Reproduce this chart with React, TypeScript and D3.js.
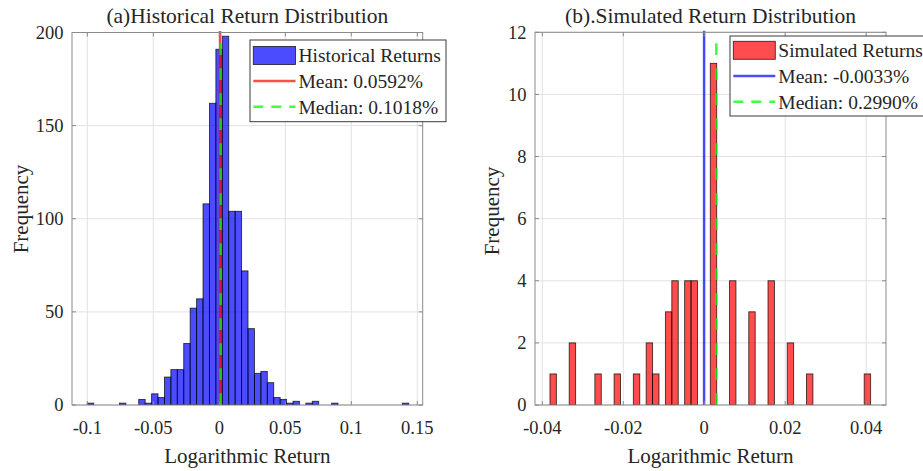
import React from "react";
import * as d3 from "d3";

// ---------- data ----------
const histCounts = [
  1, 0, 0, 0, 0, 1, 0, 0, 3, 1,
  6, 4, 15, 19, 19, 33, 52, 57, 108, 162,
  191, 198, 104, 104, 72, 41, 17, 18, 12, 4,
  3, 1, 2, 0, 1, 2, 0, 0, 1, 0,
  0, 0, 0, 0, 0, 0, 0, 0, 0, 1,
];
const histBinStart = -0.1;
const histBinWidth = 0.00487;
const histMean = 0.000592;
const histMedian = 0.001018;
const histXTicks = [-0.1, -0.05, 0, 0.05, 0.1, 0.15];
const histXTickLabels = ["-0.1", "-0.05", "0", "0.05", "0.1", "0.15"];
const histYTicks = [0, 50, 100, 150, 200];

const simCounts = [
  1, 0, 0, 2, 0, 0, 0, 1, 0, 0,
  1, 0, 0, 1, 0, 2, 1, 0, 3, 4,
  0, 4, 4, 0, 0, 11, 0, 0, 4, 0,
  0, 3, 0, 0, 4, 0, 0, 2, 0, 0,
  1, 0, 0, 0, 0, 0, 0, 0, 0, 1,
];
const simBinStart = -0.0381;
const simBinWidth = 0.001584;
const simMean = -0.000033;
const simMedian = 0.00299;
const simXTicks = [-0.04, -0.02, 0, 0.02, 0.04];
const simXTickLabels = ["-0.04", "-0.02", "0", "0.02", "0.04"];
const simYTicks = [0, 2, 4, 6, 8, 10, 12];

const FONT = "'Liberation Serif', 'Times New Roman', serif";
const TEXT = "#262626";
const AXIS = "#8a8a8a";
const GRID = "#e2e2e2";

type PanelProps = {
  title: string;
  counts: number[];
  binStart: number;
  binWidth: number;
  xDomain: [number, number];
  yMax: number;
  left: number;
  right: number;
  top: number;
  bottom: number;
  xTicks: number[];
  xTickLabels: string[];
  yTicks: number[];
  barColor: string;
  meanColor: string;
  mean: number;
  median: number;
  legendLabels: string[];
  legendBox: [number, number, number, number];
  legendRows: number[];
  legendPatchX: [number, number];
  yLabelX: number;
  yLabelY: number;
};

function Panel(p: PanelProps) {
  const x = d3.scaleLinear().domain(p.xDomain).range([p.left, p.right]);
  const y = d3.scaleLinear().domain([0, p.yMax]).range([p.bottom, p.top]);
  const tick = 4;
  const cx = (p.left + p.right) / 2;
  const [lx0, ly0, lx1, ly1] = p.legendBox;
  const [px0, px1] = p.legendPatchX;
  const clipId = "clip" + p.left;
  return (
    <g>
      <defs>
        <clipPath id={clipId}>
          <rect x={p.left} y={p.top - 2} width={p.right - p.left} height={p.bottom - p.top + 2} />
        </clipPath>
      </defs>
      {/* grid */}
      {p.xTicks.map((t, i) => (
        <line key={"gx" + i} x1={x(t)} x2={x(t)} y1={p.top} y2={p.bottom} stroke={GRID} strokeWidth={1} />
      ))}
      {p.yTicks.map((t, i) => (
        <line key={"gy" + i} x1={p.left} x2={p.right} y1={y(t)} y2={y(t)} stroke={GRID} strokeWidth={1} />
      ))}
      {/* bars */}
      <g clipPath={`url(#${clipId})`}>
        {p.counts.map((c, i) =>
          c > 0 ? (
            <rect
              key={"b" + i}
              x={x(p.binStart + i * p.binWidth)}
              width={x(p.binStart + (i + 1) * p.binWidth) - x(p.binStart + i * p.binWidth)}
              y={y(c)}
              height={y(0) - y(c)}
              fill={p.barColor}
              fillOpacity={0.7}
              stroke="#000"
              strokeOpacity={0.75}
              strokeWidth={0.9}
            />
          ) : null
        )}
      </g>
      {/* mean & median lines */}
      <line x1={x(p.mean)} x2={x(p.mean)} y1={p.bottom} y2={p.top - 1.5} stroke={p.meanColor} strokeOpacity={0.7} strokeWidth={2.5} />
      <line
        x1={x(p.median)}
        x2={x(p.median)}
        y1={p.bottom}
        y2={p.top}
        stroke="#00ff00"
        strokeOpacity={0.75}
        strokeWidth={2.5}
        strokeDasharray="11.7 13.3"
      />
      {/* axes box */}
      <rect x={p.left} y={p.top} width={p.right - p.left} height={p.bottom - p.top} fill="none" stroke={AXIS} strokeWidth={1} />
      {p.xTicks.map((t, i) => (
        <g key={"tx" + i}>
          <line x1={x(t)} x2={x(t)} y1={p.bottom} y2={p.bottom - tick} stroke={AXIS} />
          <line x1={x(t)} x2={x(t)} y1={p.top} y2={p.top + tick} stroke={AXIS} />
          <text x={x(t)} y={433.5} textAnchor="middle" fontFamily={FONT} fontSize={18.5} fill={TEXT}>
            {p.xTickLabels[i]}
          </text>
        </g>
      ))}
      {p.yTicks.map((t, i) => (
        <g key={"ty" + i}>
          <line x1={p.left} x2={p.left + tick} y1={y(t)} y2={y(t)} stroke={AXIS} />
          <line x1={p.right} x2={p.right - tick} y1={y(t)} y2={y(t)} stroke={AXIS} />
          <text x={p.left - 8.5} y={y(t)} dy="0.35em" textAnchor="end" fontFamily={FONT} fontSize={18.5} fill={TEXT}>
            {t}
          </text>
        </g>
      ))}
      {/* title & labels */}
      <text x={cx} y={23.3} textAnchor="middle" fontFamily={FONT} fontSize={21.5} fill={TEXT}>
        {p.title}
      </text>
      <text x={cx} y={462.5} textAnchor="middle" fontFamily={FONT} fontSize={21} fill={TEXT}>
        Logarithmic Return
      </text>
      <text
        transform={`translate(${p.yLabelX},${p.yLabelY}) rotate(-90)`}
        textAnchor="middle"
        dy="0.35em"
        fontFamily={FONT}
        fontSize={21}
        fill={TEXT}
      >
        Frequency
      </text>
      {/* legend */}
      <rect x={lx0} y={ly0} width={lx1 - lx0} height={ly1 - ly0} fill="#fff" stroke="#3a3a3a" strokeWidth={1} />
      <rect
        x={px0}
        y={p.legendRows[0] - 9}
        width={px1 - px0}
        height={18}
        fill={p.barColor}
        fillOpacity={0.7}
        stroke="#000"
        strokeOpacity={0.75}
        strokeWidth={0.9}
      />
      <line x1={px0} x2={px1} y1={p.legendRows[1]} y2={p.legendRows[1]} stroke={p.meanColor} strokeOpacity={0.7} strokeWidth={2.5} />
      <line
        x1={px0}
        x2={px1}
        y1={p.legendRows[2]}
        y2={p.legendRows[2]}
        stroke="#00ff00"
        strokeOpacity={0.75}
        strokeWidth={2.5}
        strokeDasharray="10 8"
      />
      {p.legendLabels.map((l, i) => (
        <text key={"l" + i} x={px1 + 3} y={p.legendRows[i]} dy="0.35em" fontFamily={FONT} fontSize={19.5} fill={TEXT}>
          {l}
        </text>
      ))}
    </g>
  );
}

export default function App() {
  return (
    <svg
      width={923}
      height={471}
      viewBox="0 0 923 471"
      style={{ position: "absolute", left: 0, top: 0, background: "#fff" }}
    >
      <rect width={923} height={471} fill="#fff" />
      <Panel
        title="(a)Historical Return Distribution"
        counts={histCounts}
        binStart={histBinStart}
        binWidth={histBinWidth}
        xDomain={[-0.1116, 0.1541]}
        yMax={200}
        left={72}
        right={422.7}
        top={32.5}
        bottom={405}
        xTicks={histXTicks}
        xTickLabels={histXTickLabels}
        yTicks={histYTicks}
        barColor="#0000ff"
        meanColor="#ff0000"
        mean={histMean}
        median={histMedian}
        legendLabels={["Historical Returns", `Mean: ${(histMean * 100).toFixed(4)}%`, `Median: ${(histMedian * 100).toFixed(4)}%`]}
        legendBox={[250, 40, 446, 121.7]}
        legendRows={[55.5, 81, 106.7]}
        legendPatchX={[253.3, 295.5]}
        yLabelX={21}
        yLabelY={209}
      />
      <Panel
        title="(b).Simulated Return Distribution"
        counts={simCounts}
        binStart={simBinStart}
        binWidth={simBinWidth}
        xDomain={[-0.0418, 0.0449]}
        yMax={12}
        left={535}
        right={886}
        top={32.3}
        bottom={405}
        xTicks={simXTicks}
        xTickLabels={simXTickLabels}
        yTicks={simYTicks}
        barColor="#ff0000"
        meanColor="#0000ff"
        mean={simMean}
        median={simMedian}
        legendLabels={["Simulated Returns", `Mean: ${(simMean * 100).toFixed(4)}%`, `Median: ${(simMedian * 100).toFixed(4)}%`]}
        legendBox={[730, 36, 960, 116]}
        legendRows={[50.3, 76, 101.7]}
        legendPatchX={[733.3, 775.3]}
        yLabelX={492}
        yLabelY={211}
      />
    </svg>
  );
}
